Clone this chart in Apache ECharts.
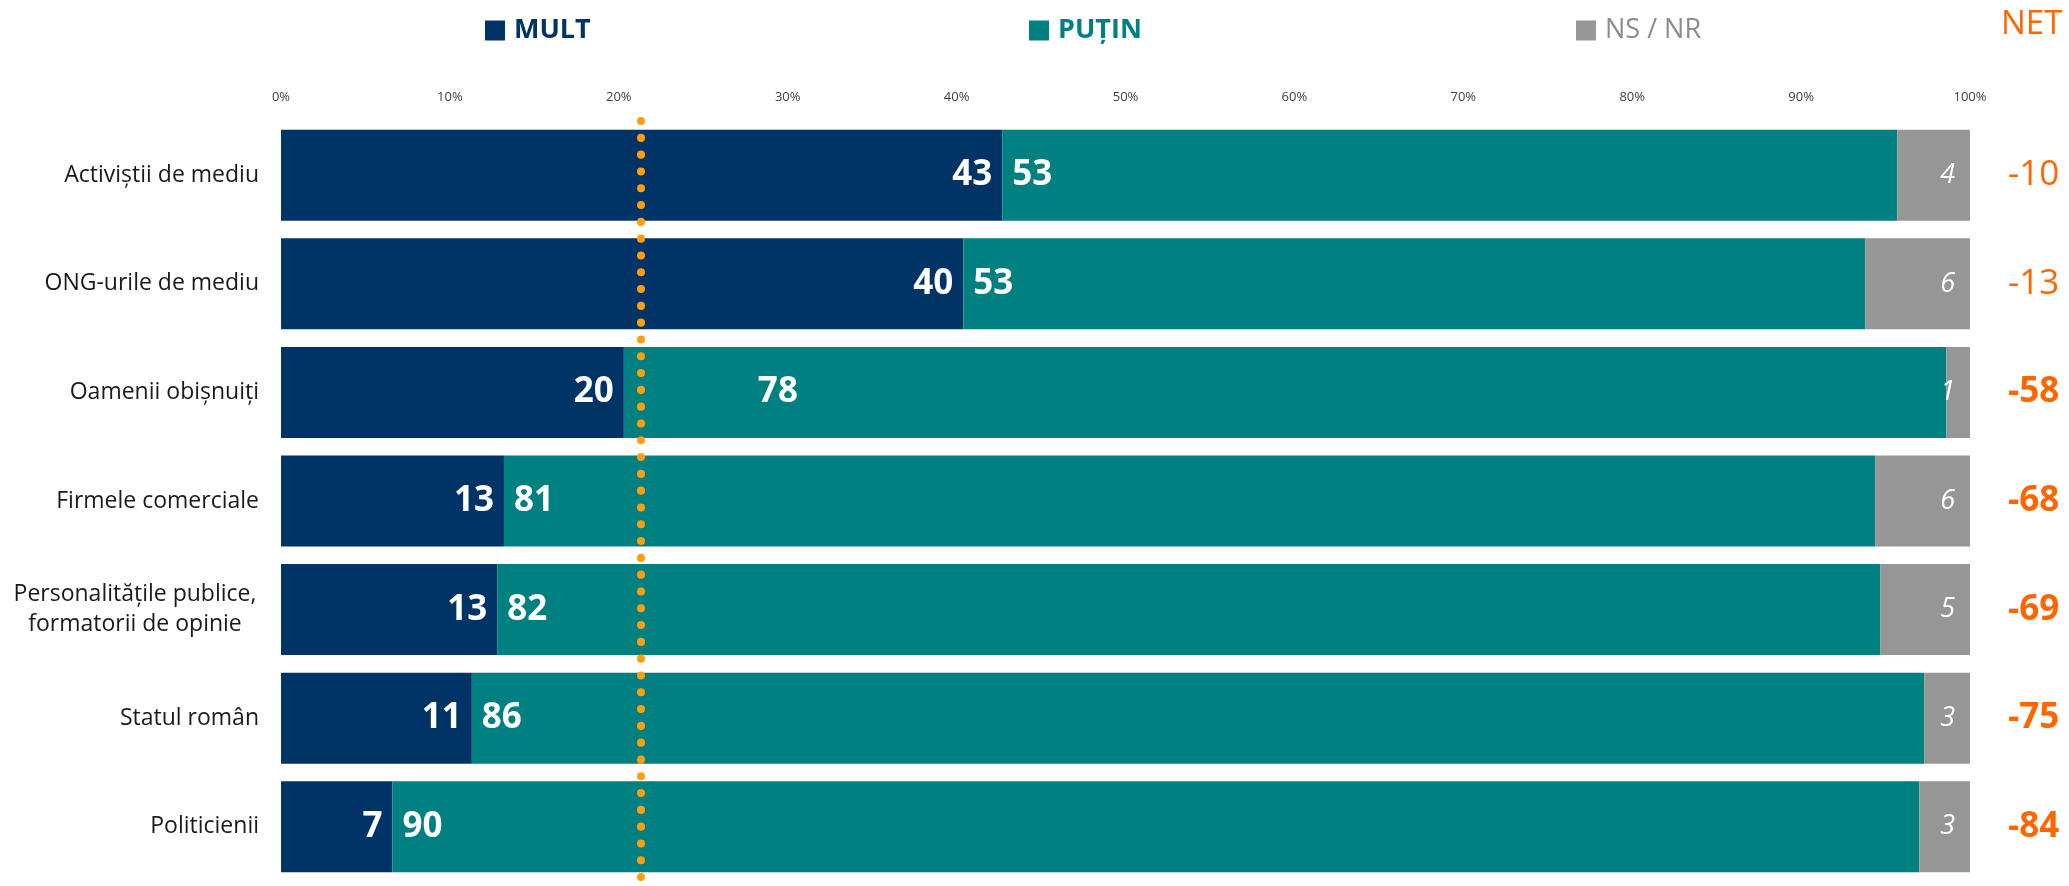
<!DOCTYPE html>
<html>
<head>
<meta charset="utf-8">
<script src="https://cdn.jsdelivr.net/npm/echarts@6/dist/echarts.min.js"></script>
<style>
    html, body { margin: 0; padding: 0; background: #fff; }
    #main { width: 2069px; height: 886px; }
</style>
</head>
<body>
<div id="main"></div>
<script>

// date
var categories = [
    'Activiștii de mediu',
    'ONG-urile de mediu',
    'Oamenii obișnuiți',
    'Firmele comerciale',
    'Personalitățile publice,\nformatorii de opinie',
    'Statul român',
    'Politicienii'
];
var mult  = [42.7, 40.4, 20.3, 13.2, 12.8, 11.3, 6.6];
var putin = [53.0, 53.4, 78.3, 81.2, 81.9, 86.0, 90.4];
var nsnr  = [4.3, 6.2, 1.4, 5.6, 5.3, 2.7, 3.0];
var net   = [-10, -13, -58, -68, -69, -75, -84];
var xTicks = [0, 10, 20, 30, 40, 50, 60, 70, 80, 90, 100];
var refLine = 21.3;

var FONT = '"Open Sans", "Noto Sans", sans-serif';
var C_MULT = '#003466';
var C_PUTIN = '#008080';
var C_NS = '#969696';
var C_NET = '#FF6600';

function round(p) {
    return Math.round(p.value);
}

// eticheta PUȚIN de pe randul 3 e mutata dupa linia punctata
var shiftedRow = 2;

var putinData = putin.map(function (v, i) {
    if (i === shiftedRow) {
        return { value: v, label: { offset: [124, 0] } };
    }
    return v;
});

function legendBox(name, left, color, bold) {
    return {
        data: [name],
        left: left,
        top: 12,
        itemWidth: 20,
        itemHeight: 20,
        icon: 'rect',
        selectedMode: false,
        textStyle: {
            color: color,
            fontFamily: FONT,
            fontSize: 27,
            fontWeight: bold ? 'bold' : 'normal',
            padding: [0, 0, 0, 4]
        }
    };
}

var chart = echarts.init(document.getElementById('main'), null, { renderer: 'canvas' });

var option = {
    backgroundColor: '#fff',
    animation: false,
    legend: [
        legendBox('MULT', 480, C_MULT, true),
        legendBox('PUȚIN', 1024, C_PUTIN, true),
        legendBox('NS / NR', 1571, '#8c8c8c', false)
    ],
    graphic: [{
        type: 'text',
        left: 2001,
        top: 8,
        style: { text: 'NET', fill: C_NET, font: 'normal 33px ' + FONT }
    }],
    grid: { left: 281, right: 99, top: 121, bottom: 5 },
    xAxis: {
        type: 'value',
        position: 'top',
        min: xTicks[0],
        max: xTicks[xTicks.length - 1],
        interval: 10,
        axisLine: { show: false },
        axisTick: { show: false },
        splitLine: { show: false },
        axisLabel: {
            formatter: '{value}%',
            color: '#404040',
            fontFamily: FONT,
            fontSize: 13,
            margin: 17
        }
    },
    yAxis: [{
        type: 'category',
        data: categories,
        inverse: true,
        axisLine: { show: false },
        axisTick: { show: false },
        axisLabel: {
            margin: 22,
            color: '#1a1a1a',
            fontFamily: FONT,
            fontSize: 23,
            lineHeight: 30,
            formatter: function (v) {
                if (v.indexOf('\n') < 0) return v;
                return v.split('\n').map(function (s) { return '{c|' + s + '}'; }).join('\n');
            },
            rich: {
                c: { width: 248, align: 'center', fontFamily: FONT, fontSize: 23, color: '#1a1a1a', lineHeight: 30 }
            }
        }
    }, {
        type: 'category',
        data: net,
        inverse: true,
        position: 'right',
        axisLine: { show: false },
        axisTick: { show: false },
        axisLabel: {
            margin: 38,
            formatter: function (v) {
                return Math.abs(v) >= 50 ? '{b|' + v + '}' : '{n|' + v + '}';
            },
            rich: {
                n: { color: C_NET, fontFamily: FONT, fontSize: 35, fontWeight: 'normal' },
                b: { color: C_NET, fontFamily: FONT, fontSize: 35, fontWeight: 'bold' }
            }
        }
    }],
    series: [{
        name: 'MULT',
        type: 'bar',
        stack: 'total',
        barWidth: 91,
        data: mult,
        itemStyle: { color: C_MULT },
        label: {
            show: true,
            position: 'insideRight',
            distance: 10,
            formatter: round,
            color: '#fff',
            fontFamily: FONT,
            fontWeight: 'bold',
            fontSize: 35
        },
        markLine: {
            silent: true,
            symbol: 'none',
            label: { show: false },
            lineStyle: {
                color: '#FF9E0F',
                width: 8,
                type: [0.1, 16.7],
                cap: 'round',
                opacity: 1
            },
            data: [{ xAxis: refLine }]
        }
    }, {
        name: 'PUȚIN',
        type: 'bar',
        stack: 'total',
        data: putinData,
        itemStyle: { color: C_PUTIN },
        label: {
            show: true,
            position: 'insideLeft',
            distance: 10,
            formatter: round,
            color: '#fff',
            fontFamily: FONT,
            fontWeight: 'bold',
            fontSize: 35
        }
    }, {
        name: 'NS / NR',
        type: 'bar',
        stack: 'total',
        data: nsnr,
        itemStyle: { color: C_NS },
        label: {
            show: true,
            position: 'insideRight',
            distance: 15,
            formatter: round,
            color: '#fff',
            fontFamily: FONT,
            fontStyle: 'italic',
            fontSize: 27
        }
    }]
};

chart.setOption(option);

</script>
</body>
</html>
